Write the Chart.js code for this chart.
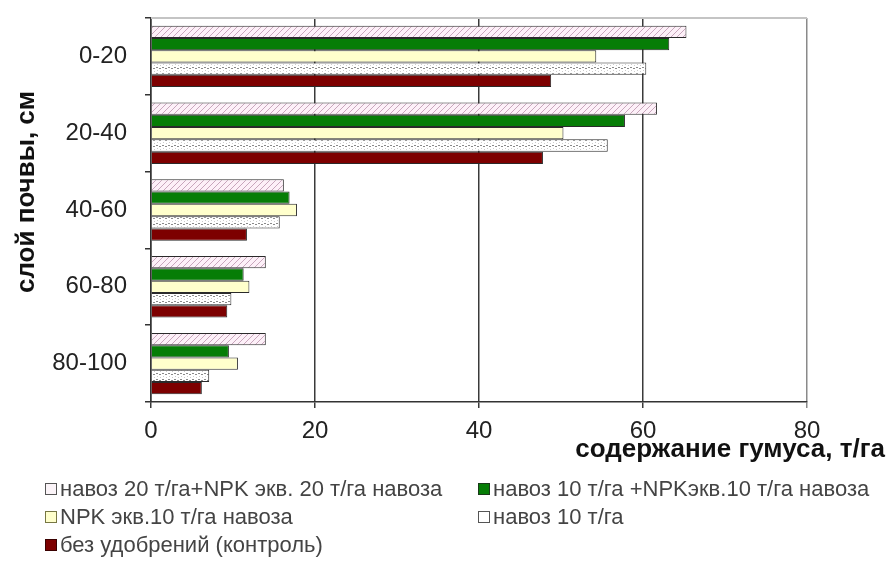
<!DOCTYPE html>
<html>
<head>
<meta charset="utf-8">
<script src="https://cdn.jsdelivr.net/npm/chart.js@4.4.0/dist/chart.umd.min.js"></script>
<style>
  body { margin: 0; background: #fff; }
  #wrap { position: relative; width: 887px; height: 574px; }
  #legend { position: absolute; left: 0; top: 0; width: 887px; height: 574px; pointer-events: none;
            font-family: 'Liberation Sans', Arial, sans-serif; font-size: 22px; color: #444; }
  .item { position: absolute; white-space: nowrap; line-height: 24px; }
  .box { display: inline-block; width: 10px; height: 10px; border: 1.5px solid #333;
         margin-right: 3px; vertical-align: 1px; }
</style>
</head>
<body>
<div id="wrap">
  <canvas id="chart" width="887" height="574"></canvas>
  <div id="legend"></div>
</div>
<script>
// soil layers, top to bottom
const layers = ['0-20', '20-40', '40-60', '60-80', '80-100'];

// humus content, t/ha, one value per layer
const manure20Npk = [65.3, 61.7, 16.2, 14.0, 14.0];
const manure10Npk = [63.2, 57.8, 16.9, 11.3, 9.5];
const npkOnly = [54.3, 50.3, 17.8, 12.0, 10.6];
const manure10 = [60.4, 55.7, 15.7, 9.8, 7.1];
const control = [48.8, 47.8, 11.7, 9.3, 6.2];

const seriesNames = [
  'навоз 20 т/га+NPK экв. 20 т/га навоза',
  'навоз 10 т/га +NPKэкв.10 т/га навоза',
  'NPK экв.10 т/га навоза',
  'навоз 10 т/га',
  'без удобрений (контроль)'
];

const xTicks = [0, 20, 40, 60, 80];
const xTitle = 'содержание гумуса, т/га';
const yTitle = 'слой почвы, см';

const FONT = "'Liberation Sans', Arial, sans-serif";

// hatched fills like the old office chart
function makePattern(bg, draw) {
  const c = document.createElement('canvas');
  c.width = 6; c.height = 6;
  const g = c.getContext('2d');
  g.fillStyle = bg;
  g.fillRect(0, 0, 6, 6);
  draw(g);
  return document.getElementById('chart').getContext('2d').createPattern(c, 'repeat');
}

const pinkHatch = makePattern('#fdf0f8', (g) => {
  g.strokeStyle = '#c8a6bc';
  g.lineWidth = 1;
  g.beginPath();
  g.moveTo(0, 6); g.lineTo(6, 0);
  g.moveTo(-1, 1); g.lineTo(1, -1);
  g.moveTo(5, 7); g.lineTo(7, 5);
  g.stroke();
});

const whiteHatch = makePattern('#ffffff', (g) => {
  g.fillStyle = '#8a8a8a';
  g.fillRect(0, 1, 2, 1);
  g.fillRect(3, 2, 2, 1);
  g.fillStyle = '#cccccc';
  g.fillRect(1, 4, 1, 1);
  g.fillRect(4, 5, 1, 1);
});

const fills = [pinkHatch, '#067d06', '#ffffcc', whiteHatch, '#7d0000'];
const legendFills = ['#fbf4f8', '#067d06', '#ffffcc', '#ffffff', '#7d0000'];
const legendBorders = ['#555', '#1a3a1a', '#777744', '#555', '#3a0000'];
const values = [manure20Npk, manure10Npk, npkOnly, manure10, control];

const datasets = values.map((v, i) => ({
  label: seriesNames[i],
  data: v,
  backgroundColor: fills[i],
  borderColor: '#2a2a2a',
  borderWidth: 1,
  categoryPercentage: 0.8,
  barPercentage: 1.0
}));

// axis titles and the light top frame line
const decorPlugin = {
  id: 'decor',
  afterDraw(chart) {
    const { ctx, chartArea } = chart;
    ctx.save();
    ctx.strokeStyle = '#c4c4c4';
    ctx.lineWidth = 2;
    ctx.beginPath();
    ctx.moveTo(chartArea.left, chartArea.top);
    ctx.lineTo(chartArea.right, chartArea.top);
    ctx.stroke();

    ctx.fillStyle = '#111';
    ctx.font = 'bold 26px ' + FONT;
    ctx.textAlign = 'right';
    ctx.textBaseline = 'middle';
    ctx.fillText(xTitle, 885, 450);

    ctx.translate(27, 192);
    ctx.rotate(-Math.PI / 2);
    ctx.textAlign = 'center';
    ctx.fillText(yTitle, 0, 0);
    ctx.restore();
  }
};

new Chart(document.getElementById('chart'), {
  type: 'bar',
  data: { labels: layers, datasets: datasets },
  plugins: [decorPlugin],
  options: {
    indexAxis: 'y',
    responsive: false,
    animation: false,
    layout: { padding: { left: 0, top: 18, right: 80, bottom: 0 } },
    plugins: { legend: { display: false }, tooltip: { enabled: false } },
    scales: {
      x: {
        min: 0,
        max: 80,
        afterFit: (scale) => { scale.height = 172; },
        afterBuildTicks: (scale) => { scale.ticks = xTicks.map((v) => ({ value: v })); },
        ticks: { color: '#222', font: { family: FONT, size: 24 }, padding: 9 },
        grid: {
          color: (c) => (c.tick && c.tick.value === 80 ? '#8a8a8a' : '#3a3a3a'),
          lineWidth: 1.5,
          tickLength: 6
        },
        border: { color: '#333', width: 1.5 }
      },
      y: {
        afterFit: (scale) => {
          scale.width = 151;
          scale.paddingTop = 0;
          scale.paddingBottom = 0;
        },
        ticks: { color: '#222', font: { family: FONT, size: 24 }, padding: 18 },
        grid: { drawOnChartArea: false, color: '#333', tickLength: 6, lineWidth: 1.5 },
        border: { color: '#333', width: 1.5 }
      }
    }
  }
});

// two-column legend under the plot
const legendPos = [[45, 477], [478, 477], [45, 505], [478, 505], [45, 533]];
const legendEl = document.getElementById('legend');
seriesNames.forEach((name, i) => {
  const item = document.createElement('div');
  item.className = 'item';
  item.style.left = legendPos[i][0] + 'px';
  item.style.top = legendPos[i][1] + 'px';
  const box = document.createElement('span');
  box.className = 'box';
  box.style.background = legendFills[i];
  box.style.borderColor = legendBorders[i];
  item.appendChild(box);
  item.appendChild(document.createTextNode(name));
  legendEl.appendChild(item);
});
</script>
</body>
</html>
